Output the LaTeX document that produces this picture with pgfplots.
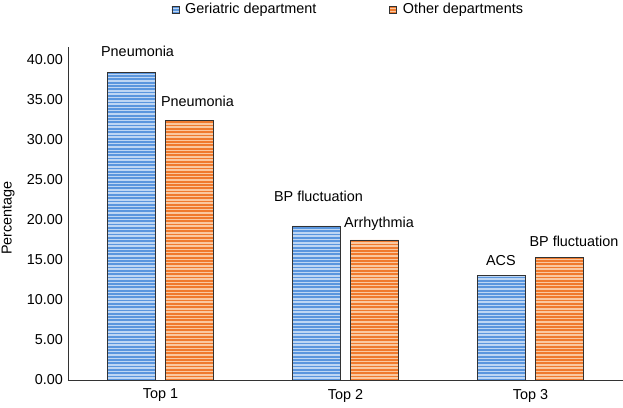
\documentclass[border=0pt]{standalone}
\usepackage{pgfplots}
\pgfplotsset{compat=1.18}
\usepackage{fontspec}
\setmainfont{Liberation Sans}
\usetikzlibrary{patterns.meta}

\definecolor{gerLine}{RGB}{90,150,222}
\definecolor{gerFill}{RGB}{190,214,243}
\definecolor{othLine}{RGB}{240,122,45}
\definecolor{othFill}{RGB}{250,200,160}
\definecolor{barEdge}{RGB}{50,50,50}

% stripes drawn a little past the tile so that no seam shows
\tikzdeclarepattern{
  name=hstripes,
  type=uncolored,
  bottom left={(-1pt,0pt)},
  top right={(61pt,3.3pt)},
  tile size={(60pt,3.3pt)},
  code={\fill (-1pt,0pt) rectangle (61pt,1.8pt);}
}

\begin{document}
\fontsize{14.4}{17}\selectfont
\begin{tikzpicture}
\begin{axis}[
  scale only axis,
  width=555pt, height=333pt,
  xmin=0.5, xmax=3.5,
  ymin=0, ymax=41.6,
  axis x line*=bottom,
  axis y line*=left,
  axis line style={black!80, line width=0.8pt},
  major tick length=0pt,
  xtick={1,2,3},
  xticklabels={Top 1,Top 2,Top 3},
  xticklabel style={yshift=-4pt},
  ytick={0,5,...,40},
  yticklabel style={/pgf/number format/.cd, fixed, fixed zerofill, precision=2},
  /pgf/number format/assume math mode=true,
  ylabel={Percentage},
  ylabel style={at={(axis description cs:-0.108,0.486)}, anchor=center},
  tick label style={font=\fontsize{14.4}{17}\selectfont},
  label style={font=\fontsize{14.4}{17}\selectfont},
  bar width=0.26,
  clip=false,
  legend columns=2,
  legend style={at={(0.505,1.112)}, anchor=center, draw=none, fill=none,
    font=\fontsize{14.4}{17}\selectfont,
    /tikz/every even column/.append style={column sep=71pt}},
  legend image code/.code={\draw[#1, draw=barEdge, line width=0.5pt] (0pt,-3.5pt) rectangle (7pt,3.5pt); \path (11pt,0pt);},
]
\addplot[ybar, bar shift=-0.157, draw=barEdge, line width=0.6pt, fill=gerFill,
  postaction={pattern={hstripes}, pattern color=gerLine}]
  coordinates {(1,38.4) (2,19.25) (3,13.1)};
\addlegendentry{Geriatric department}
\addplot[ybar, bar shift=0.157, draw=barEdge, line width=0.6pt, fill=othFill,
  postaction={pattern={hstripes}, pattern color=othLine}]
  coordinates {(1,32.45) (2,17.5) (3,15.3)};
\addlegendentry{Other departments}

\node at (axis cs:0.876,41.0) {Pneumonia};
\node at (axis cs:1.200,34.8) {Pneumonia};
\node at (axis cs:1.854,23.0) {BP fluctuation};
\node at (axis cs:2.181,19.5) {Arrhythmia};
\node at (axis cs:2.840,14.9) {ACS};
\node at (axis cs:3.235,17.3) {BP fluctuation};

\coordinate (O) at (rel axis cs:0,0);
\end{axis}
\pgfresetboundingbox
\path (O) ++(-68pt,-27pt) rectangle ++(623pt,407pt);
\end{tikzpicture}
\end{document}
